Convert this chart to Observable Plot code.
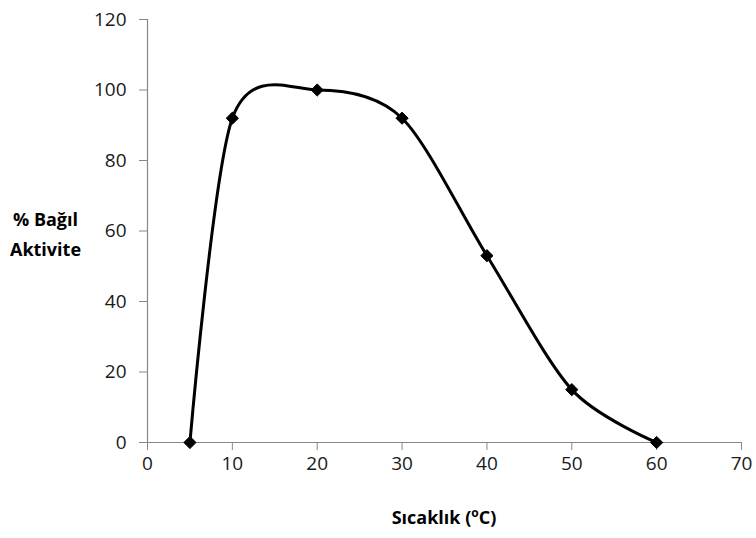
<!DOCTYPE html>
<html>
<head>
<meta charset="utf-8">
<script src="https://cdn.jsdelivr.net/npm/d3@7"></script>
<script src="https://cdn.jsdelivr.net/npm/@observablehq/plot@0.6"></script>
<style>
  html, body { margin: 0; padding: 0; background: #fff; }
  #chart { width: 756px; height: 538px; }
</style>
</head>
<body>
<div id="chart"></div>
<script>
const temperature = [5, 10, 20, 30, 40, 50, 60];
const activity = [0, 92, 100, 92, 53, 15, 0];
const xTicks = [0, 10, 20, 30, 40, 50, 60, 70];
const yTicks = [0, 20, 40, 60, 80, 100, 120];
const yTitle = "% Bağıl\nAktivite";
const xTitleMain = "Sıcaklık (";
const xTitleSup = "o";
const xTitleEnd = "C)";

const data = temperature.map((t, i) => ({t, a: activity[i]}));
const font = "'Open Sans', 'Liberation Sans', sans-serif";
const axisColor = "#888888";

const chart = Plot.plot({
  width: 756,
  height: 538,
  marginLeft: 147,
  marginRight: 15,
  marginTop: 19,
  marginBottom: 96,
  style: {fontFamily: font, fontSize: "19px", color: "#1a1a1a", background: "#fff"},
  x: {domain: [0, 70], ticks: xTicks},
  y: {domain: [0, 120], ticks: yTicks},
  marks: [
    Plot.ruleX([0], {stroke: axisColor, strokeWidth: 1.2}),
    Plot.ruleY([0], {stroke: axisColor, strokeWidth: 1.2, x1: -0.95, x2: 70}),
    Plot.axisX({ticks: xTicks, tickSize: 8, tickPadding: 6, stroke: axisColor, label: null, fontSize: 19, fill: "#1a1a1a"}),
    Plot.axisY({ticks: yTicks, tickSize: 8, tickPadding: 13, stroke: axisColor, label: null, fontSize: 19, fill: "#1a1a1a"}),
    Plot.line(data, {x: "t", y: "a", curve: "cardinal", tension: 0.12, stroke: "#000", strokeWidth: 3}),
    Plot.dot(data, {x: "t", y: "a", symbol: "diamond2", r: 5.5, fill: "#000", stroke: "#000", strokeWidth: 1}),
    Plot.text([yTitle], {frameAnchor: "left", dx: -102, textAnchor: "middle", lineHeight: 1.7, fontWeight: "bold", fontSize: 18, fill: "#000"})
  ]
});

const svg = d3.select(chart);
const t = svg.append("text")
  .attr("x", 444).attr("y", 524)
  .attr("text-anchor", "middle")
  .attr("font-family", font)
  .attr("font-weight", "bold")
  .attr("font-size", 18)
  .attr("fill", "#000");
t.append("tspan").text(xTitleMain);
t.append("tspan").attr("font-size", 12).attr("dy", -7).text(xTitleSup);
t.append("tspan").attr("dy", 7).text(xTitleEnd);

document.getElementById("chart").appendChild(chart);
</script>
</body>
</html>
